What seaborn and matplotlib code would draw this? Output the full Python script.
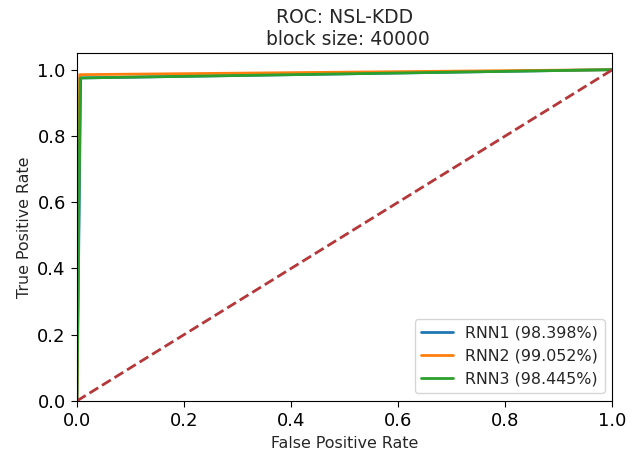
import matplotlib
matplotlib.use("Agg")
import matplotlib.pyplot as plt
import seaborn as sns
import pandas as pd

models = ["RNN1", "RNN2", "RNN3"]
auc_pct = ["98.398", "99.052", "98.445"]
fpr_rnn1 = [0.0, 0.007, 1.0]
tpr_rnn1 = [0.0, 0.975, 1.0]
fpr_rnn2 = [0.0, 0.005, 1.0]
tpr_rnn2 = [0.0, 0.985, 1.0]
fpr_rnn3 = [0.0, 0.006, 1.0]
tpr_rnn3 = [0.0, 0.975, 1.0]
chance_x = [0.0, 1.0]
chance_y = [0.0, 1.0]

fprs = [fpr_rnn1, fpr_rnn2, fpr_rnn3]
tprs = [tpr_rnn1, tpr_rnn2, tpr_rnn3]
rows = []
for m, a, f, t in zip(models, auc_pct, fprs, tprs):
    label = f"{m} ({a}%)"
    for i, (xx, yy) in enumerate(zip(f, t)):
        rows.append({"fpr": xx, "tpr": yy, "model": label, "order": i})
df = pd.DataFrame(rows)

sns.set_style("ticks")
plt.rcParams["font.family"] = ["DejaVu Sans"]
plt.rcParams["font.size"] = 11.4

fig = plt.figure(figsize=(6.36, 4.54), dpi=100)
ax = fig.add_axes([0.121, 0.117, 0.842, 0.766])

sns.lineplot(data=df, x="fpr", y="tpr", hue="model", sort=False,
             palette=["#1f77b4", "#ff7f0e", "#2ca02c"], linewidth=2,
             estimator=None, units="model", ax=ax)
sns.lineplot(x=chance_x, y=chance_y, color="#b5373a", linestyle="--",
             linewidth=2, ax=ax, legend=False)

ax.set_xlim(0, 1)
ax.set_ylim(0, 1.05)
ax.set_xlabel("False Positive Rate", fontsize=11.4)
ax.set_ylabel("True Positive Rate", fontsize=11.4)
ax.set_title("ROC: NSL-KDD\n block size: 40000", fontsize=13.5)
ax.legend(loc="lower right", title=None, fontsize=11.4)
for s in ax.spines.values():
    s.set_visible(True)
    s.set_color("black")
    s.set_linewidth(0.8)
ax.tick_params(direction="out", length=4.5, width=0.8, colors="black",
               labelsize=13)

fig.savefig("out.png", dpi=100)
